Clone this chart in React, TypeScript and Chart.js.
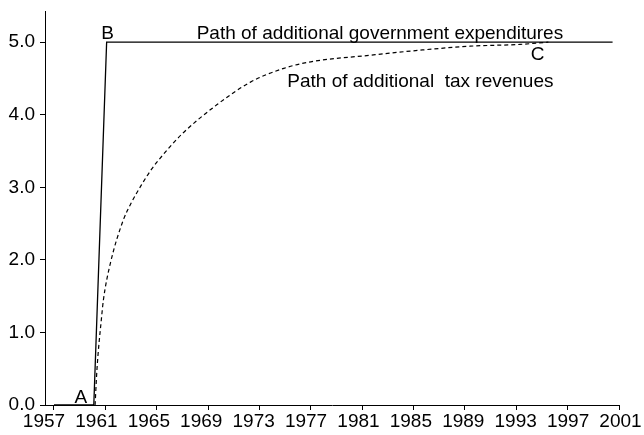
import React, { useEffect, useRef } from "react";
import { Chart, registerables } from "chart.js";

Chart.register(...registerables);

// Path of additional government expenditures (solid)
const govYears = [1957, 1960.1, 1961.1, 2000.5];
const govValues = [0, 0, 5, 5];

// Path of additional tax revenues (dashed)
const taxYears = [1960.2, 1960.35, 1960.7, 1960.85, 1961.4, 1962.4, 1963.0, 1963.8, 1964.6, 1965.5, 1967.0, 1969.7, 1972.3, 1974.9, 1977.0, 1981.6, 1985.5, 1989.4, 1993.3, 1995.5];
const taxValues = [0, 0.5, 1.2, 1.45, 1.96, 2.55, 2.78, 3.03, 3.25, 3.45, 3.74, 4.14, 4.45, 4.64, 4.73, 4.82, 4.89, 4.945, 4.97, 5.0];

const xTickValues = [1957, 1961, 1965, 1969, 1973, 1977, 1981, 1985, 1989, 1993, 1997, 2001];
const yTickValues = [0, 1, 2, 3, 4, 5];

// Text labels placed in data coordinates
const labelTexts = ["A", "B", "C", "Path of additional government expenditures", "Path of additional  tax revenues"];
const labelYears = [1959.1, 1961.17, 1994.66, 1968.11, 1975.17];
const labelValues = [0.023, 5.041, 4.752, 5.051, 4.384];
const labelAligns: CanvasTextAlign[] = ["center", "center", "center", "left", "left"];

const FONT = '"Liberation Sans", Arial, Helvetica, sans-serif';

const textPlugin = {
  id: "textLabels",
  afterDatasetsDraw(chart: any) {
    const ctx = chart.ctx;
    const xs = chart.scales.x;
    const ys = chart.scales.y;
    ctx.save();
    ctx.fillStyle = "#000";
    ctx.font = `19px ${FONT}`;
    ctx.textBaseline = "alphabetic";
    labelTexts.forEach((t, i) => {
      ctx.textAlign = labelAligns[i];
      ctx.fillText(t, xs.getPixelForValue(labelYears[i]), ys.getPixelForValue(labelValues[i]));
    });
    ctx.restore();
  },
};

export default function App() {
  const ref = useRef<HTMLCanvasElement>(null);
  useEffect(() => {
    document.body.style.margin = "0";
    const chart = new Chart(ref.current!, {
      type: "line",
      data: {
        datasets: [
          {
            label: "Path of additional government expenditures",
            data: govYears.map((x, i) => ({ x, y: govValues[i] })),
            borderColor: "#000",
            borderWidth: 1.3,
            pointRadius: 0,
            tension: 0,
            fill: false,
            xAxisID: "x",
          },
          {
            label: "Path of additional tax revenues",
            data: taxYears.map((x, i) => ({ x, y: taxValues[i] })),
            borderColor: "#000",
            borderWidth: 1.2,
            borderDash: [4, 3],
            pointRadius: 0,
            cubicInterpolationMode: "monotone",
            fill: false,
            xAxisID: "x",
          },
        ],
      },
      options: {
        animation: false,
        responsive: false,
        maintainAspectRatio: false,
        layout: { padding: { top: 11, right: 25, left: 0, bottom: 0 } },
        plugins: { legend: { display: false }, tooltip: { enabled: false } },
        scales: {
          x: {
            type: "linear",
            position: "bottom",
            min: 1956.3,
            max: 2001,
            afterBuildTicks: (s: any) => {
              s.ticks = xTickValues.map((v) => ({ value: v }));
            },
            afterFit: (s: any) => {
              s.height = 5;
              s.paddingLeft = 0;
              s.paddingRight = 0;
            },
            grid: { display: true, drawOnChartArea: false, drawTicks: true, tickLength: 5, color: "#000" },
            border: { display: true, color: "#000", width: 1 },
            ticks: { display: false },
          },
          xLabels: {
            type: "linear",
            position: "bottom",
            min: 1957.076,
            max: 2000.885,
            afterBuildTicks: (s: any) => {
              s.ticks = xTickValues.map((v) => ({ value: v }));
            },
            afterFit: (s: any) => {
              s.height = 25;
              s.paddingLeft = 0;
              s.paddingRight = 0;
            },
            grid: { display: false, drawTicks: false },
            border: { display: false },
            ticks: {
              color: "#000",
              font: { family: FONT, size: 19 },
              padding: 0,
              maxRotation: 0,
              autoSkip: false,
              callback: (v: any) => String(v),
            },
          },
          y: {
            type: "linear",
            min: 0,
            max: 5.43,
            afterBuildTicks: (s: any) => {
              s.ticks = yTickValues.map((v) => ({ value: v }));
            },
            afterFit: (s: any) => {
              s.width = 45;
              s.paddingTop = 0;
              s.paddingBottom = 0;
            },
            grid: { display: true, drawOnChartArea: false, drawTicks: true, tickLength: 5, color: "#000" },
            border: { display: true, color: "#000", width: 1 },
            ticks: {
              color: "#000",
              font: { family: FONT, size: 19 },
              padding: 5,
              callback: (v: any) => Number(v).toFixed(1),
            },
          },
        },
      },
      plugins: [textPlugin],
    });
    return () => chart.destroy();
  }, []);
  return <canvas ref={ref} width={644} height={435} style={{ display: "block" }} />;
}
